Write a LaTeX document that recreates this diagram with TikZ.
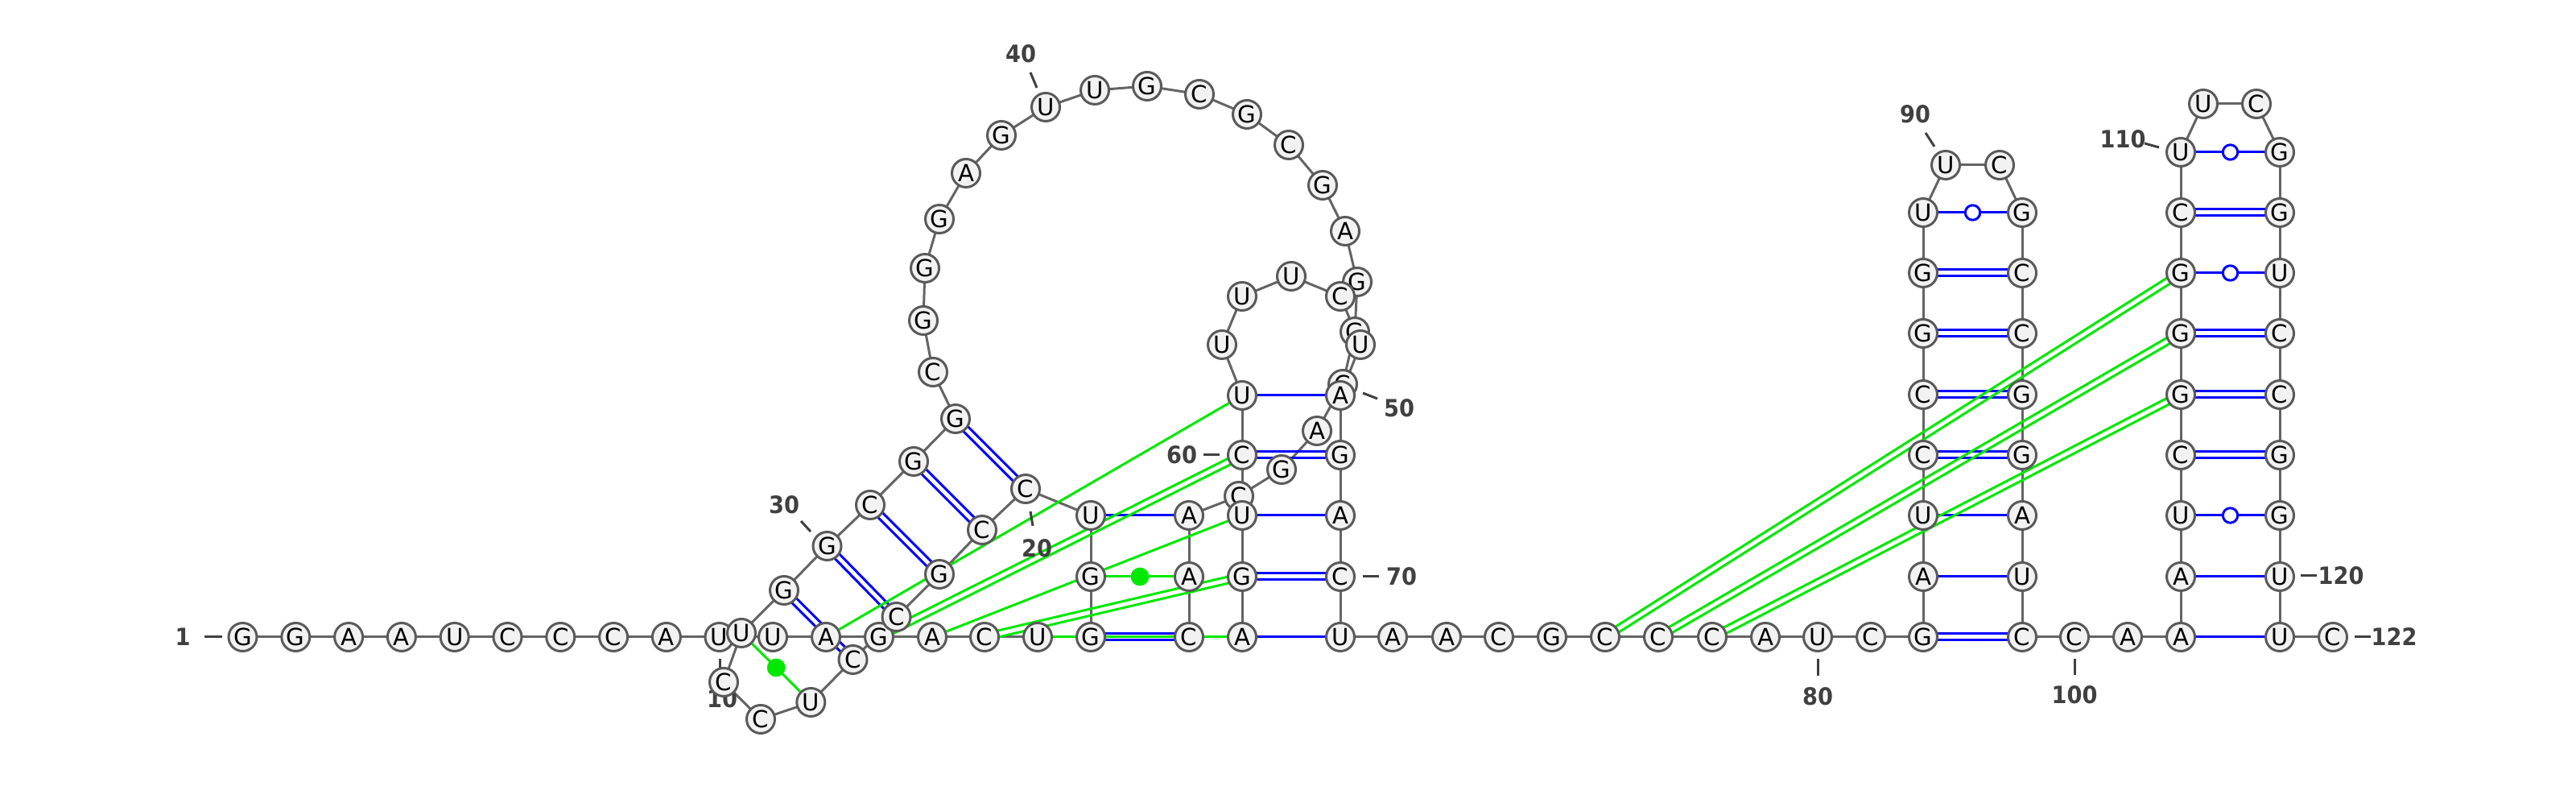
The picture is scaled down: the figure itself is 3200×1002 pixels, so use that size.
\documentclass[tikz,border=0pt]{standalone}
\usepackage{fontspec}
\setmainfont{DejaVu Sans}
\newfontfamily\numfont{DejaVu Sans}[FakeStretch=0.92]
\usetikzlibrary{calc}
\pgfdeclarelayer{bg}
\pgfsetlayers{bg,main}
\definecolor{bbgray}{RGB}{100,100,100}
\definecolor{ndgray}{RGB}{90,90,90}
\definecolor{nfill}{RGB}{242,242,242}
\definecolor{lblgray}{RGB}{64,64,64}
\definecolor{pblue}{RGB}{0,0,255}
\definecolor{tgreen}{RGB}{0,232,0}
\newcommand\pS[3][bp]{\draw[#1] (#2) -- (#3);}
\newcommand\pD[3][bp]{\draw[#1] ($(#2)!1pt!90:(#3)$) -- ($(#3)!1pt!-90:(#2)$);\draw[#1] ($(#2)!1pt!-90:(#3)$) -- ($(#3)!1pt!90:(#2)$);}
\tikzset{
 nt/.style={circle, draw=ndgray, fill=nfill, line width=0.75pt, minimum size=8.75pt, inner sep=0pt, font=\fontsize{7.3}{7.3}\selectfont},
 bb/.style={draw=bbgray, line width=0.75pt},
 bp/.style={draw=pblue, line width=0.75pt},
 tp/.style={draw=tgreen, line width=0.75pt},
 wob/.style={circle, draw=pblue, fill=white, line width=0.75pt, minimum size=4.6pt, inner sep=0pt},
 gdot/.style={circle, fill=tgreen, minimum size=5.7pt, inner sep=0pt},
 lbl/.style={font=\numfont\bfseries\fontsize{7.4}{7.4}\selectfont, text=lblgray, inner sep=0pt},
 tk/.style={draw=lblgray, line width=0.75pt},
}
\begin{document}
\begin{tikzpicture}[x=0.25pt,y=-0.25pt]
\useasboundingbox (0,0) rectangle (3200,1002);
% nucleotides
\foreach \i/\b/\x/\y in {
1/G/301.5/791, 2/G/367.3/791, 3/A/433.1/791, 4/A/498.9/791, 5/U/564.7/791, 6/C/630.5/791, 7/C/696.3/791, 8/C/762.1/791, 9/A/827.9/791, 10/U/893.5/791,
11/U/960/791, 12/A/1026/791, 13/G/1092/791, 14/A/1158/791, 15/C/1223/791, 16/U/1289/791, 17/G/1355/791, 18/G/1355/716, 19/U/1355/640, 20/C/1274/607,
21/C/1220/658, 22/G/1167/713, 23/C/1113.5/766, 24/C/1059.5/819, 25/U/1007.3/872, 26/C/945/893, 27/C/899/847, 28/U/921/786, 29/G/974/733, 30/G/1027.5/678,
31/C/1081/627, 32/G/1135/573, 33/G/1187/520, 34/C/1159/462, 35/G/1147/398, 36/G/1149/333, 37/G/1167/272, 38/A/1200/215, 39/G/1244/168, 40/U/1299/133,
41/U/1360/112, 42/G/1425/107, 43/C/1490/117, 44/G/1549/142, 45/C/1601/180, 46/G/1643/230, 47/A/1671/287, 48/G/1686/350, 49/G/1683/412, 50/C/1668/477,
51/A/1636/535, 52/G/1592/583, 53/C/1539/616, 54/A/1477/640, 55/A/1477/716, 56/C/1477/791, 57/A/1543/791, 58/G/1543/716, 59/U/1543/640, 60/C/1543/565,
61/U/1543/491, 62/U/1518/428, 63/U/1543/368, 64/U/1604/343, 65/C/1665/368, 66/U/1690/428, 67/A/1665/491, 68/G/1665/565, 69/A/1665/640, 70/C/1665/716,
71/U/1665/791, 72/A/1730/791, 73/A/1797/791, 74/C/1862/791, 75/G/1928/791, 76/C/1994/791, 77/C/2060/791, 78/C/2127/791, 79/A/2193/791, 80/U/2258/791,
81/C/2324/791, 82/G/2389/791, 83/A/2389/716, 84/U/2389/640, 85/C/2389/565, 86/C/2389/490, 87/G/2389/414, 88/G/2389/339, 89/U/2389/264, 90/U/2417/205,
91/C/2484/205, 92/G/2512/264, 93/C/2512/339, 94/C/2512/414, 95/G/2512/490, 96/G/2512/565, 97/A/2512/640, 98/U/2512/716, 99/C/2512/791, 100/C/2577/791,
101/A/2643/791, 102/A/2709/791, 103/A/2709/716, 104/U/2709/640, 105/C/2709/565, 106/G/2709/490, 107/G/2709/414, 108/G/2709/339, 109/C/2709/264, 110/U/2709/189,
111/U/2737/129, 112/C/2803/129, 113/G/2832/189, 114/G/2832/264, 115/U/2832/339, 116/C/2832/414, 117/C/2832/490, 118/G/2832/565, 119/G/2832/640, 120/U/2832/716,
121/U/2832/791, 122/C/2898/791}
  \node[nt] (n\i) at (\x,\y) {\b};
\begin{pgfonlayer}{bg}
\fill[white] (0,0) rectangle (3200,1002);
% backbone
\foreach \i in {1,...,121}{\pgfmathtruncatemacro\j{\i+1}\draw[bb] (n\i.center) -- (n\j.center);}
% canonical pairs (blue)
\foreach \a/\b in {29/24,30/23,31/22,32/21,33/20,17/56,58/70,60/68,82/99,85/96,86/95,87/94,88/93,105/118,106/117,107/116,109/114}
  {\pD{n\a}{n\b}}
\foreach \a/\b in {19/54,57/71,59/69,61/67,83/98,84/97,102/121,103/120,89/92,104/119,108/115,110/113}
  {\pS{n\a}{n\b}}
% tertiary pairs (green)
\foreach \a/\b in {13/60,15/58,76/108,77/107,78/106}
  {\pD[tp]{n\a}{n\b}}
\foreach \a/\b in {12/61,14/59,16/57,18/55,28/25}
  {\pS[tp]{n\a}{n\b}}
% numbering
\node[lbl] (l1) at (227,791) {1};
\draw[tk] (254,791) -- (276,791);
\node[lbl] (l10) at (897,868) {10};
\draw[tk] (894,818) -- (894,830);
\node[lbl] (l20) at (1288,681) {20};
\draw[tk] (1280,635) -- (1283,653);
\node[lbl] (l30) at (974,627) {30};
\draw[tk] (995,647) -- (1007,660);
\node[lbl] (l40) at (1268,67) {40};
\draw[tk] (1280,90) -- (1288,109);
\node[lbl] (l50) at (1738,507) {50};
\draw[tk] (1693,488) -- (1711,495);
\node[lbl] (l60) at (1468,565) {60};
\draw[tk] (1495,565) -- (1515,565);
\node[lbl] (l70) at (1741,716) {70};
\draw[tk] (1693,716) -- (1713,716);
\node[lbl] (l80) at (2258,865) {80};
\draw[tk] (2258,818) -- (2258,839);
\node[lbl] (l90) at (2379,142) {90};
\draw[tk] (2392,165) -- (2403,182);
\node[lbl] (l100) at (2577,863) {100};
\draw[tk] (2577,818) -- (2577,838);
\node[lbl] (l110) at (2637,173) {110};
\draw[tk] (2664,178) -- (2682,183);
\node[lbl] (l120) at (2908,715) {120};
\draw[tk] (2858,715) -- (2878,715);
\node[lbl] (l122) at (2974,791) {122};
\draw[tk] (2925,791) -- (2945,791);
\end{pgfonlayer}
% pair markers
\foreach \a/\b/\m in {89/92/w1,104/119/w2,108/115/w3,110/113/w4}
  {\node[wob] (\m) at ($(n\a)!0.5!(n\b)$) {};}
\node[gdot] (g1) at ($(n18)!0.5!(n55)$) {};
\node[gdot] (g2) at ($(n28)!0.5!(n25)$) {};
\end{tikzpicture}
\end{document}
